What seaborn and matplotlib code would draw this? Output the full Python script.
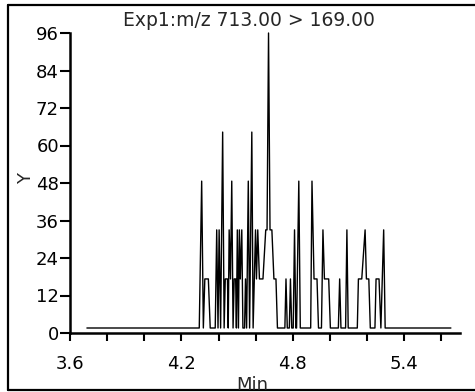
import matplotlib
matplotlib.use("Agg")
import matplotlib.pyplot as plt
from matplotlib.lines import Line2D
import seaborn as sns
import pandas as pd

# ---- data (retention time in min, intensity) ----
title_text = "Exp1:m/z 713.00 > 169.00"
x_label = "Min"
y_label = "Y"

time_min = [
    3.691, 4.296, 4.309, 4.318, 4.326, 4.345, 4.355, 4.382, 4.390, 4.397,
    4.403, 4.411, 4.422, 4.430, 4.436, 4.448, 4.452, 4.457, 4.464, 4.471,
    4.478, 4.484, 4.492, 4.496, 4.501, 4.507, 4.512, 4.517, 4.525, 4.531,
    4.540, 4.545, 4.551, 4.560, 4.567, 4.579, 4.586, 4.599, 4.604, 4.611,
    4.620, 4.639, 4.654, 4.661, 4.669, 4.677, 4.687, 4.698, 4.709, 4.717,
    4.757, 4.763, 4.770, 4.781, 4.787, 4.794, 4.802, 4.809, 4.816, 4.820,
    4.832, 4.840, 4.896, 4.903, 4.914, 4.930, 4.938, 4.954, 4.962, 4.970,
    4.993, 5.002, 5.045, 5.052, 5.059, 5.084, 5.091, 5.098, 5.147, 5.153,
    5.171, 5.189, 5.196, 5.209, 5.217, 5.242, 5.248, 5.264, 5.274, 5.289,
    5.297, 5.651,
]
intensity = [
    1.6, 1.6, 48.6, 1.6, 17.3, 17.3, 1.6, 1.6, 33.0, 1.6,
    33.0, 1.6, 64.3, 1.6, 17.3, 17.3, 1.6, 33.0, 17.3, 48.6,
    1.6, 17.3, 17.3, 1.6, 33.0, 1.6, 33.0, 17.3, 33.0, 1.6,
    1.6, 17.3, 1.6, 48.6, 1.6, 64.3, 1.6, 33.0, 17.3, 33.0,
    17.3, 17.3, 33.0, 33.0, 96.0, 33.0, 33.0, 17.3, 17.3, 1.6,
    1.6, 17.3, 1.6, 1.6, 17.3, 1.6, 1.6, 33.0, 1.6, 1.6,
    48.6, 1.6, 1.6, 48.6, 17.3, 17.3, 1.6, 1.6, 33.0, 17.3,
    17.3, 1.6, 1.6, 17.3, 1.6, 1.6, 33.0, 1.6, 1.6, 17.3,
    17.3, 33.0, 17.3, 17.3, 1.6, 1.6, 17.3, 17.3, 1.6, 33.0,
    1.6, 1.6,
]
y_ticks = [0, 12, 24, 36, 48, 60, 72, 84, 96]
x_ticks = [3.6, 3.8, 4.0, 4.2, 4.4, 4.6, 4.8, 5.0, 5.2, 5.4, 5.6]
x_tick_labels = ["3.6", "", "", "4.2", "", "", "4.8", "", "", "5.4", ""]

df = pd.DataFrame({"t": time_min, "v": intensity})

sns.set_style("ticks")
plt.rcParams["font.family"] = ["DejaVu Sans"]
plt.rcParams["font.size"] = 13

W, H = 475, 392
fig = plt.figure(figsize=(W / 100, H / 100), dpi=100)
fig.patch.set_facecolor("white")
ax = fig.add_axes([70 / W, 1 - 333 / H, (460 - 70) / W, (333 - 33) / H])

sns.lineplot(data=df, x="t", y="v", ax=ax, color="black", linewidth=1.0,
             estimator=None, sort=False, clip_on=False)

ax.set_xlim(3.6, 5.7)
ax.set_ylim(0, 96)
ax.set_yticks(y_ticks)
ax.set_yticklabels([str(v) for v in y_ticks])
ax.set_xticks(x_ticks)
ax.set_xticklabels(x_tick_labels)
ax.tick_params(axis="y", length=7, width=1.5, pad=1, labelsize=13, colors="black")
ax.tick_params(axis="x", length=6, width=1.5, pad=10, labelsize=13, colors="black")
for s in ["top", "right"]:
    ax.spines[s].set_visible(False)
for s in ["left", "bottom"]:
    ax.spines[s].set_linewidth(1.8)
    ax.spines[s].set_color("black")
ax.set_xlabel("")
ax.set_ylabel("")

fig.text(26 / W, 1 - 178 / H, y_label, rotation=90, ha="center", va="center", fontsize=13)
fig.text(249 / W, 1 - 21 / H, title_text, ha="center", va="center", fontsize=13.5)
fig.text(252 / W, 1 - 390 / H, x_label, ha="center", va="baseline", fontsize=13)

# outer frame lines (left, top, bottom)
fx = lambda p: p / W
fy = lambda p: 1 - p / H
for xs, ys in [([8, 8], [5, 390]), ([8, W], [5, 5]), ([8, W], [390, 390])]:
    fig.add_artist(Line2D([fx(v) for v in xs], [fy(v) for v in ys],
                          color="black", linewidth=1.6))

fig.savefig("out.png", dpi=100, facecolor="white")
